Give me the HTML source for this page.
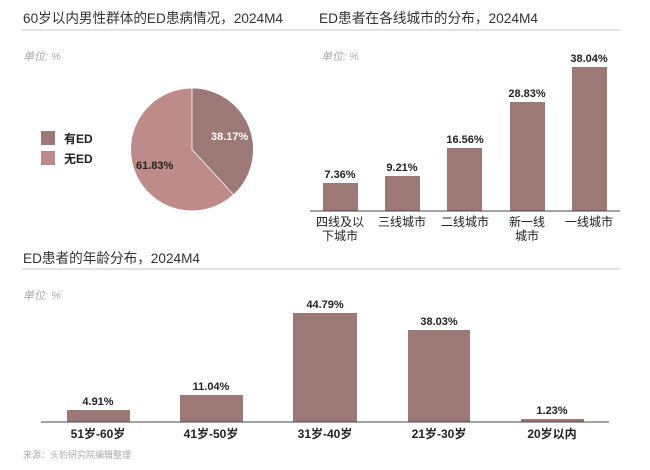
<!DOCTYPE html>
<html><head><meta charset="utf-8"><style>
body{margin:0;background:#fff;}
svg text{font-family:"Liberation Sans","Noto Sans CJK SC",sans-serif;}
</style></head><body>
<svg width="650" height="465" viewBox="0 0 650 465" xmlns="http://www.w3.org/2000/svg">
<g font-size="14" fill="#333">
<text x="23" y="23" textLength="260" lengthAdjust="spacingAndGlyphs">60岁以内男性群体的ED患病情况，2024M4</text>
<text x="319" y="23" textLength="219" lengthAdjust="spacingAndGlyphs">ED患者在各线城市的分布，2024M4</text>
<text x="23" y="263" textLength="177" lengthAdjust="spacingAndGlyphs">ED患者的年龄分布，2024M4</text>
</g>
<g stroke="#e3e3e3" stroke-width="2">
<line x1="22" y1="30" x2="300" y2="30"/>
<line x1="300" y1="30" x2="620" y2="30"/>
<line x1="22" y1="269" x2="620" y2="269"/>
</g>
<g font-size="11" fill="#aaa" font-style="italic">
<text x="23" y="60">单位:  %</text>
<text x="321" y="60">单位:  %</text>
<text x="23" y="299">单位:  %</text>
</g>
<!-- pie -->
<circle cx="192" cy="149.5" r="61" fill="#bd8b89"/>
<path d="M192,149.5 L192,88.5 A61,61 0 0 1 233.3,194.4 Z" fill="#9c7877"/>
<line x1="192" y1="149.5" x2="192" y2="88.5" stroke="#fff" stroke-width="0.8"/>
<line x1="192" y1="149.5" x2="233.3" y2="194.4" stroke="#fff" stroke-width="0.8"/>
<text x="211" y="140" font-size="11" font-weight="bold" fill="#fff">38.17%</text>
<text x="136" y="169" font-size="11" font-weight="bold" fill="#222">61.83%</text>
<rect x="41" y="131" width="14" height="14" fill="#9c7877"/>
<rect x="41" y="151" width="14" height="14" fill="#bd8b89"/>
<g font-size="12" font-weight="bold" fill="#222">
<text x="64" y="143">有ED</text>
<text x="64" y="163">无ED</text>
</g>
<!-- city bars -->
<g fill="#9c7877">
<rect x="323" y="183" width="35" height="28"/>
<rect x="385" y="176" width="35" height="35"/>
<rect x="447" y="148" width="35" height="63"/>
<rect x="510" y="102" width="35" height="109"/>
<rect x="572" y="67" width="35" height="144"/>
</g>
<line x1="310" y1="211" x2="620" y2="211" stroke="#444" stroke-width="1"/>
<g font-size="11" font-weight="bold" fill="#222" text-anchor="middle">
<text x="340" y="178">7.36%</text>
<text x="402" y="171">9.21%</text>
<text x="465" y="143">16.56%</text>
<text x="527" y="97">28.83%</text>
<text x="589" y="62">38.04%</text>
</g>
<g font-size="12" fill="#222" text-anchor="middle">
<text x="340" y="226">四线及以</text><text x="340" y="240">下城市</text>
<text x="402" y="226">三线城市</text>
<text x="465" y="226">二线城市</text>
<text x="527" y="226">新一线</text><text x="527" y="240">城市</text>
<text x="589" y="226">一线城市</text>
</g>
<!-- age bars -->
<g fill="#9c7877">
<rect x="67" y="410" width="63" height="12"/>
<rect x="180" y="395" width="63" height="27"/>
<rect x="293" y="313" width="64" height="109"/>
<rect x="408" y="330" width="62" height="92"/>
<rect x="521" y="419" width="63" height="3"/>
</g>
<line x1="41" y1="422" x2="609" y2="422" stroke="#444" stroke-width="1"/>
<g font-size="11" font-weight="bold" fill="#222" text-anchor="middle">
<text x="98" y="405">4.91%</text>
<text x="211" y="390">11.04%</text>
<text x="325" y="308">44.79%</text>
<text x="439" y="325">38.03%</text>
<text x="552" y="414">1.23%</text>
</g>
<g font-size="12" font-weight="bold" fill="#222" text-anchor="middle">
<text x="98" y="438">51岁-60岁</text>
<text x="211" y="438">41岁-50岁</text>
<text x="325" y="438">31岁-40岁</text>
<text x="439" y="438">21岁-30岁</text>
<text x="552" y="438">20岁以内</text>
</g>
<text x="23" y="458" font-size="9" fill="#aaa">来源：头豹研究院编辑整理</text>
</svg>
</body></html>
